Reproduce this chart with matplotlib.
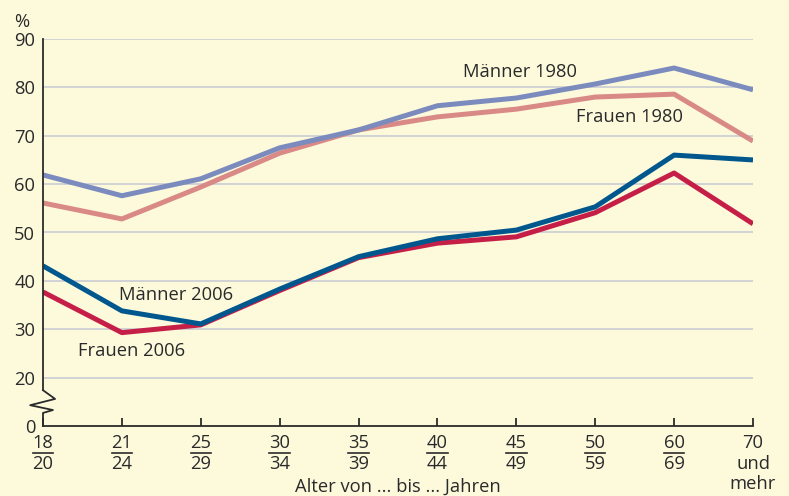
import numpy as np
import matplotlib
matplotlib.use("Agg")
import matplotlib.pyplot as plt
import matplotlib.transforms as mtransforms

plt.rcParams['font.family'] = ['Open Sans', 'DejaVu Sans']

# Data (percent)
age_top = ["18", "21", "25", "30", "35", "40", "45", "50", "60"]
age_bottom = ["20", "24", "29", "34", "39", "44", "49", "59", "69"]
age_last = ["70", "und", "mehr"]

maenner_1980 = [61.9, 57.6, 61.1, 67.5, 71.2, 76.2, 77.8, 80.7, 84.0, 79.5]
frauen_1980 = [56.1, 52.8, 59.4, 66.4, 71.2, 73.9, 75.5, 78.0, 78.6, 68.9]
maenner_2006 = [43.1, 33.8, 31.1, 38.3, 45.0, 48.7, 50.5, 55.3, 66.0, 65.0]
frauen_2006 = [37.7, 29.3, 30.9, 38.0, 44.8, 47.8, 49.1, 54.1, 62.3, 51.8]

yticks = [20, 30, 40, 50, 60, 70, 80, 90]

BG = "#fdfadc"
TXT = "#2a2a2a"
FS = 13.2

fig = plt.figure(figsize=(7.89, 4.96), dpi=100, facecolor=BG)
ax = fig.add_axes([43 / 789, 70 / 496, 710 / 789, 387 / 496])
ax.set_facecolor(BG)

x = np.arange(len(maenner_1980))

# Grid
for v in yticks:
    ax.axhline(v, color="#c4c8d4", lw=1.1, zorder=1)

# women below men
ax.plot(x, frauen_1980, color="#d98a87", lw=3.6, zorder=3, solid_capstyle="butt")
ax.plot(x, maenner_1980, color="#7b8bbd", lw=3.6, zorder=4, solid_capstyle="butt")
ax.plot(x, frauen_2006, color="#c61f47", lw=3.6, zorder=3, solid_capstyle="butt")
ax.plot(x, maenner_2006, color="#00578e", lw=3.6, zorder=4, solid_capstyle="butt")

ax.set_xlim(0, len(x) - 1)
ax.set_ylim(10, 90)

for s in ax.spines.values():
    s.set_visible(False)
ax.spines['bottom'].set_visible(True)
ax.spines['bottom'].set_color(TXT)
ax.spines['bottom'].set_linewidth(1.3)

# left axis with break
bt = mtransforms.blended_transform_factory(ax.transAxes, ax.transData)
ax.plot([0, 0], [90, 17.4], color=TXT, lw=1.3, transform=bt, clip_on=False, zorder=5)
zx = [0, 0.017, -0.018, 0.014, 0, 0]
zy = [17.4, 15.6, 14.3, 13.3, 12.7, 10]
ax.plot(zx, zy, color=TXT, lw=1.3, transform=bt, clip_on=False, zorder=5)

# y tick labels
ax.set_yticks([])
for v in yticks:
    ax.text(-0.011, v, str(v), transform=bt, ha="right", va="center_baseline",
            fontsize=FS, color=TXT)
ax.text(-0.011, 10, "0", transform=bt, ha="right", va="center_baseline",
        fontsize=FS, color=TXT)
ax.text(-0.03, 1.05, "%", transform=ax.transAxes, ha="center", va="center_baseline",
        fontsize=FS, color=TXT)

# x ticks as fractions
ax.set_xticks(x)
ax.set_xticklabels([])
ax.tick_params(axis="x", direction="in", length=6, width=1.3, color=TXT)
xt = mtransforms.blended_transform_factory(ax.transData, fig.transFigure)
for i, (a, b) in enumerate(zip(age_top, age_bottom)):
    ax.text(i, 1 - 448 / 496, a, transform=xt, ha="center", va="baseline",
            fontsize=FS, color=TXT)
    ax.text(i, 1 - 469 / 496, b, transform=xt, ha="center", va="baseline",
            fontsize=FS, color=TXT)
    ax.plot([i - 0.13, i + 0.13], [1 - 452.5 / 496] * 2, color=TXT, lw=1.2,
            transform=xt, clip_on=False)
for txt, base in zip(age_last, [448, 469, 489]):
    ax.text(len(x) - 1, 1 - base / 496, txt, transform=xt, ha="center",
            va="baseline", fontsize=FS, color=TXT)

ax.text(0.5, 1 - 492 / 496, "Alter von ... bis ... Jahren",
        transform=mtransforms.blended_transform_factory(ax.transAxes, fig.transFigure),
        ha="center", va="baseline", fontsize=FS, color=TXT)

# series labels (left edge, baseline in pixels)
def px_to_data(px, py):
    xd = (px - 43) / 710 * (len(x) - 1)
    yd = 90 - (py - 39) / 387 * 80
    return xd, yd

for label, (px, py) in [("Männer 1980", (463, 77)), ("Frauen 1980", (576, 122)),
                        ("Männer 2006", (119, 300)), ("Frauen 2006", (78, 356))]:
    xd, yd = px_to_data(px, py)
    ax.text(xd, yd, label, ha="left", va="baseline", fontsize=FS, color=TXT, zorder=6)

fig.savefig("out.png", dpi=100, facecolor=BG)
